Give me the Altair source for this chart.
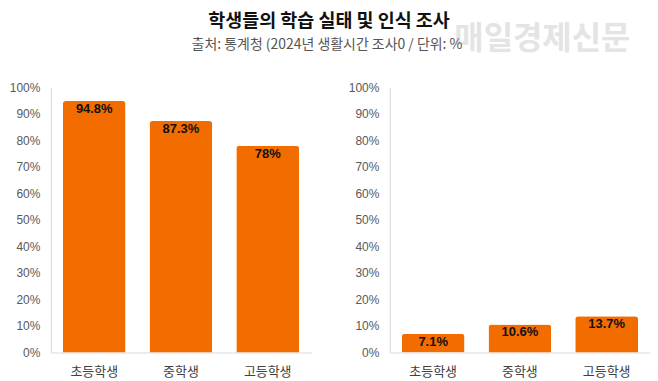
import altair as alt
import pandas as pd

categories = ["초등학생", "중학생", "고등학생"]
left_values = [94.8, 87.3, 78]
right_values = [7.1, 10.6, 13.7]
left_labels = ["94.8%", "87.3%", "78%"]
right_labels = ["7.1%", "10.6%", "13.7%"]
y_ticks = [0, 10, 20, 30, 40, 50, 60, 70, 80, 90, 100]

title_text = "학생들의 학습 실태 및 인식 조사"
subtitle_text = "출처: 통계청 (2024년 생활시간 조사0 / 단위: %"
watermark_text = "매일경제신문"

BAR = "#F26C00"
KR = "Noto Sans CJK KR"


def panel(values, labels, label_pad):
    df = pd.DataFrame({"cat": categories, "value": values, "label": labels})
    base = alt.Chart(df).encode(
        x=alt.X(
            "cat:N", sort=categories, title=None,
            scale=alt.Scale(paddingInner=0.276, paddingOuter=0.138),
            axis=alt.Axis(labelAngle=0, ticks=False, domainColor="#d9d9d9",
                          labelFont=KR, labelFontSize=13, labelColor="#404040",
                          labelPadding=13),
        ),
        y=alt.Y(
            "value:Q", title=None,
            scale=alt.Scale(domain=[0, 100], nice=False),
            axis=alt.Axis(values=y_ticks, labelExpr="datum.value + '%'", grid=False,
                          ticks=False, domainColor="#d9d9d9",
                          labelFont="Liberation Sans", labelFontSize=12,
                          labelColor="#595959", labelPadding=label_pad),
        ),
    )
    bars = base.mark_bar(color=BAR, cornerRadiusTopLeft=3, cornerRadiusTopRight=3)
    text = base.mark_text(baseline="top", dy=2, font="Liberation Sans",
                          fontWeight="bold", fontSize=13, color="#111111").encode(text="label:N")
    return alt.layer(bars, text).properties(width=261, height=266)


left = panel(left_values, left_labels, 11)
right = panel(right_values, right_labels, 11)

hdr = alt.Chart(pd.DataFrame({"t": [0]}))
wm = hdr.mark_text(text=watermark_text, font=KR, fontWeight="bold", fontSize=32,
                   color="#e4e4e4", align="center", baseline="middle").encode(
    x=alt.value(493), y=alt.value(31))
ttl = hdr.mark_text(text=title_text, font=KR, fontWeight="bold", fontSize=18.5,
                    color="#111111", align="center", baseline="middle").encode(
    x=alt.value(279), y=alt.value(12))
sub = hdr.mark_text(text=subtitle_text, font=KR, fontSize=14,
                    color="#555555", align="center", baseline="middle").encode(
    x=alt.value(277), y=alt.value(37))
header = alt.layer(wm, ttl, sub).properties(width=595, height=60)

chart = alt.vconcat(
    header,
    alt.hconcat(left, right, spacing=37),
    spacing=13,
).properties(
    padding={"left": 1, "top": 0, "right": 0, "bottom": 0}
).configure_view(stroke=None)

chart.save("out.html", embed_options={"renderer": "svg", "actions": False})
